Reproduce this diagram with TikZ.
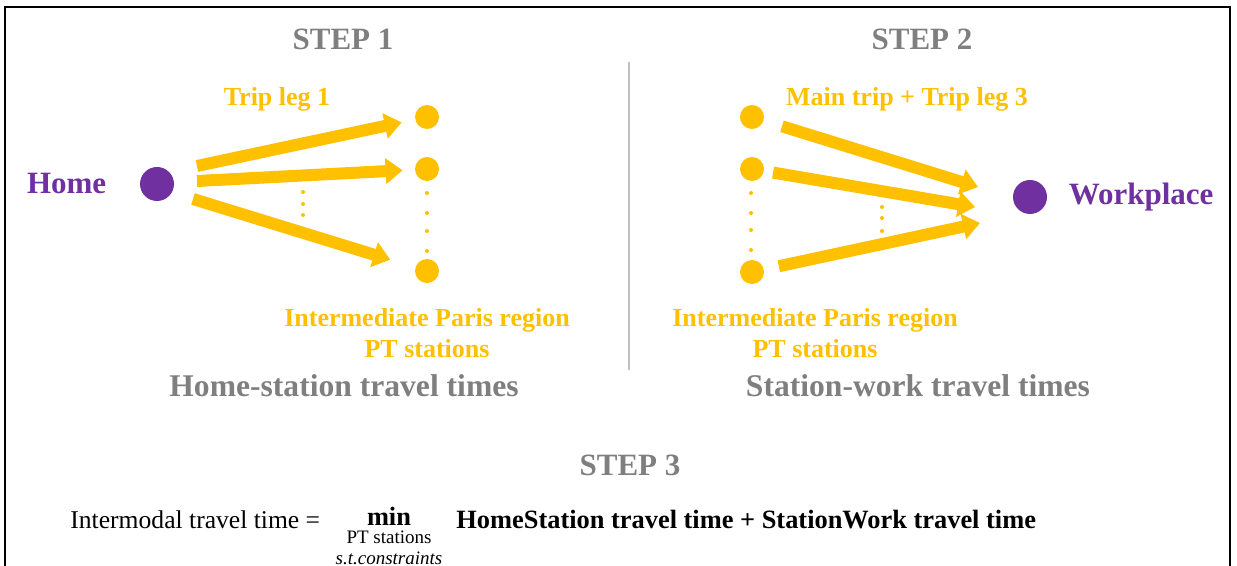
\documentclass[tikz,border=0pt]{standalone}
\usepackage{fontspec}
\setmainfont{Liberation Serif}
\usetikzlibrary{arrows.meta,positioning}
\definecolor{stepGray}{HTML}{7F7F7F}
\definecolor{legGold}{HTML}{FFC000}
\definecolor{placePurple}{HTML}{7030A0}
\definecolor{ruleGray}{HTML}{BFBFBF}

\begin{document}
\begin{tikzpicture}[x=0.5pt,y=-0.5pt,
  steptitle/.style={font=\fontsize{15.5}{18}\selectfont\bfseries,text=stepGray,anchor=base},
  place/.style={circle,fill=placePurple,minimum size=17pt,inner sep=0pt},
  placelabel/.style={font=\fontsize{15.5}{18}\selectfont\bfseries,text=placePurple,inner sep=0pt},
  stopdot/.style={circle,fill=legGold,minimum size=12pt,inner sep=0pt},
  leglabel/.style={font=\fontsize{13}{16}\selectfont\bfseries,text=legGold,anchor=base},
  leg/.style={draw=legGold,line width=6pt,-{Triangle[width=12.5pt,length=8.5pt]}},
  eqtext/.style={font=\fontsize{12.8}{15}\selectfont,inner sep=0pt},
  eqbold/.style={font=\fontsize{13.2}{15}\selectfont\bfseries,inner sep=0pt},
  subtext/.style={font=\fontsize{9.5}{11}\selectfont,inner sep=0pt,anchor=base}]
\useasboundingbox (0,0) rectangle (1237,566);
\draw[line width=1pt] (5,566) -- (5,7) -- (1230,7) -- (1230,566);
\draw[ruleGray,line width=0.75pt] (629,62) -- (629,370);

\node[steptitle] (step1) at (343,50) {STEP 1};
\node[steptitle] (step2) at (922,50) {STEP 2};
\node[steptitle] (step3) at (630,476) {STEP 3};

\node[place] (home) at (157,184) {};
\node[placelabel,left=16.5pt of home] (homelbl) {Home};
\node[stopdot] (a1) at (427,117) {};
\node[stopdot] (a2) at (427,169) {};
\node[stopdot] (a3) at (427,271) {};
\coordinate (s1) at (197,166);
\coordinate (s2) at (197,181);
\coordinate (s3) at (193,199);
\draw[leg,shorten >=6.75pt] (s1) -- (a1);
\draw[leg,shorten >=6pt] (s2) -- (a2);
\draw[leg,shorten >=13pt] (s3) -- (a3);
\foreach \y in {193,213,231,251} \fill[legGold] (427,\y) circle (2);
\foreach \y in {192,204,215} \fill[legGold] (303,\y) circle (2);
\node[leglabel] (leg1) at (277,106) {Trip leg 1};
\node[leglabel] (mid1) at (427,327) {Intermediate Paris region};
\node[leglabel] (pt1) at (427,358) {PT stations};
\node[steptitle,font=\fontsize{15.8}{18}\selectfont\bfseries] (hs) at (344,397) {Home-station travel times};

\node[place] (work) at (1030,197) {};
\node[placelabel,right=10.5pt of work] (worklbl) {Workplace};
\node[stopdot] (b1) at (752,117) {};
\node[stopdot] (b2) at (752,169) {};
\node[stopdot] (b3) at (752,272) {};
\coordinate (e1) at (978,187);
\coordinate (e2) at (975,207);
\coordinate (e3) at (980,223);
\draw[leg,shorten <=9.5pt] (b1) -- (e1);
\draw[leg,shorten <=4.5pt] (b2) -- (e2);
\draw[leg,shorten <=7.5pt] (b3) -- (e3);
\foreach \y in {193,213,230,250} \fill[legGold] (751,\y) circle (2);
\foreach \y in {207,218,231} \fill[legGold] (882,\y) circle (2);
\node[leglabel] (leg3) at (907,106) {Main trip + Trip leg 3};
\node[leglabel] (mid2) at (815,327) {Intermediate Paris region};
\node[leglabel] (pt2) at (815,358) {PT stations};
\node[steptitle,font=\fontsize{15.8}{18}\selectfont\bfseries] (sw) at (918,397) {Station-work travel times};

\node[eqtext,anchor=base west] (lhs) at (70,529) {Intermodal travel time =};
\node[eqbold,anchor=base] (minop) at (389,525) {min};
\node[subtext] (range) at (389,543) {PT stations};
\node[subtext,font=\fontsize{9.5}{11}\selectfont\itshape] (cond) at (389,564) {s.t.constraints};
\node[eqbold,anchor=base west] (rhs) at (456,529) {HomeStation travel time + StationWork travel time};
\end{tikzpicture}
\end{document}
